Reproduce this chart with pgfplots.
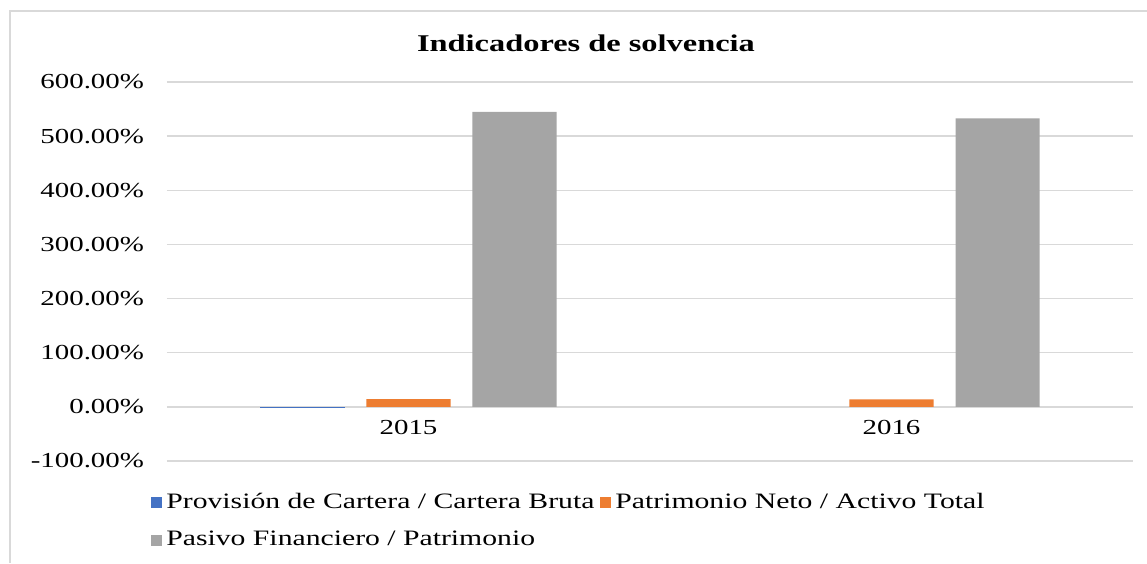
\documentclass[border=0pt]{standalone}
\usepackage{fontspec}
\setmainfont{Liberation Serif}[FakeStretch=1.35]
\usepackage{pgfplots}
\pgfplotsset{compat=1.18}
\definecolor{cblue}{HTML}{4472C4}
\definecolor{corange}{HTML}{ED7D31}
\definecolor{cgray}{HTML}{A5A5A5}
\definecolor{cgrid}{HTML}{D9D9D9}
\begin{document}
\begin{tikzpicture}
\useasboundingbox (0,0) rectangle (573.5pt,281.5pt);
\draw[cgrid, line width=1pt] (5pt,0pt) -- (5pt,276pt) -- (573.5pt,276pt);
\node[font=\fontsize{12}{14}\selectfont\bfseries] at (293pt,260pt) {Indicadores de solvencia};
\begin{axis}[
  at={(83.5pt,51pt)}, anchor=south west,
  scale only axis, width=483pt, height=189.5pt,
  xmin=-0.5, xmax=1.5, ymin=-100, ymax=600,
  axis x line*=middle, axis y line*=left,
  axis line style={draw=none},
  major tick length=0pt,
  xtick={0,1}, xticklabels={2015,2016},
  ytick={-100,0,100,200,300,400,500,600},
  yticklabels={-100.00\%,0.00\%,100.00\%,200.00\%,300.00\%,400.00\%,500.00\%,600.00\%},
  ymajorgrids, grid style={draw=cgrid, line width=0.7pt},
  tick label style={font=\fontsize{10.7}{12}\selectfont},
  yticklabel style={xshift=-8pt},
  xticklabel style={yshift=-3pt},
  ybar, bar width=0.174,
  legend columns=2,
  legend cell align=left,
  legend style={at={(-0.0228,-0.062)}, anchor=north west, draw=none, fill=none,
    font=\fontsize{11}{12}\selectfont, row sep=6pt,
    /tikz/every odd column/.append style={column sep=0pt},
    /tikz/every even column/.append style={column sep=1pt}},
  legend image code/.code={\fill[#1] (0pt,-2.8pt) rectangle (5.5pt,2.7pt);},
]
\addplot[fill=cblue, draw=none, bar shift=-0.2195] coordinates {(0,-2.5)};
\addplot[fill=corange, draw=none, bar shift=0] coordinates {(0,14.2) (1,14)};
\addplot[fill=cgray, draw=none, bar shift=0.2195] coordinates {(0,545) (1,533)};
\legend{Provisión de Cartera / Cartera Bruta, Patrimonio Neto / Activo Total, Pasivo Financiero / Patrimonio}
\end{axis}
\end{tikzpicture}
\end{document}
